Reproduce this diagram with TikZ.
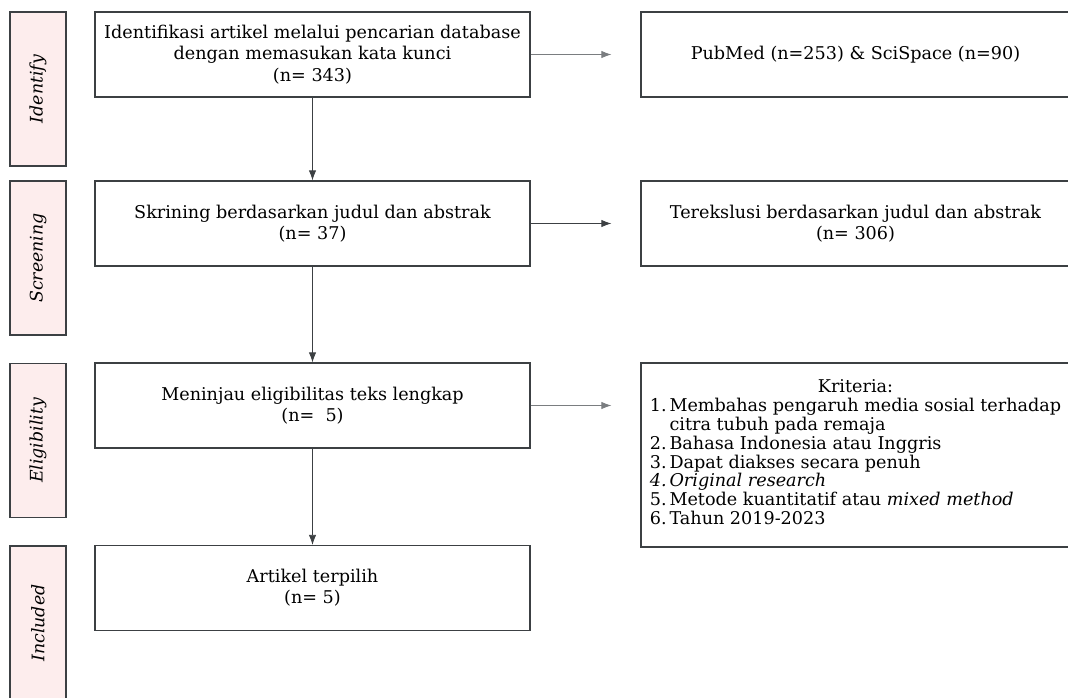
\documentclass[tikz,border=0pt]{standalone}
\usepackage{fontspec}
\setmainfont{DejaVu Serif}
\usetikzlibrary{arrows.meta}
\definecolor{edgegray}{HTML}{3C4043}
\definecolor{linegray}{HTML}{7A7D80}
\definecolor{stagepink}{HTML}{FDEDED}

\begin{document}
\begin{tikzpicture}[x=0.75pt,y=-0.75pt]

 \tikzset{
    stage/.style={draw=edgegray, fill=stagepink, line width=0.9pt, rotate=90,
      minimum width=115.5pt, minimum height=42pt, inner sep=0pt,
      font=\fontsize{13}{15}\selectfont\itshape},
    mainbox/.style={draw=edgegray, line width=0.9pt, align=center,
      minimum width=326.25pt, minimum height=63.75pt, inner sep=0pt,
      font=\fontsize{13.2}{16}\selectfont},
    sidebox/.style={mainbox, minimum width=321.75pt},
    flow/.style={draw=edgegray, line width=0.6pt, -{Latex[length=7.5pt,width=5.5pt]}},
    flowlight/.style={flow, draw=linegray},
  }

  \useasboundingbox (0,0) rectangle (1068,697);

  \node[stage] (sIdent) at (38,89) {Identify};
  \node[stage] (sScreen) at (38,258) {Screening};
  \node[stage] (sElig) at (38,440.5) {Eligibility};
  \node[stage] (sIncl) at (38,623) {Included};

  \node[mainbox] (ident) at (312.5,54.5)
    {Identifikasi artikel melalui pencarian database\\dengan memasukan kata kunci\\(n= 343)};
  \node[mainbox] (screen) at (312.5,223.5)
    {Skrining berdasarkan judul dan abstrak\\(n= 37)};
  \node[mainbox] (elig) at (312.5,405.5)
    {Meninjau eligibilitas teks lengkap\\(n=\ \ 5)};
  \node[mainbox] (incl) at (312.5,588)
    {Artikel terpilih\\(n= 5)};

  \node[sidebox] (pub) at (855.5,54.5) {PubMed (n=253) \& SciSpace (n=90)};
  \node[sidebox] (excl) at (855.5,223.5)
    {Terekslusi berdasarkan judul dan abstrak\\(n= 306)};
  \node[sidebox, minimum height=138pt] (krit) at (855.5,455) {%
    \fontsize{13.2}{13.6}\selectfont
    \begin{tabular}{@{}l@{\,}l@{}}
      \multicolumn{2}{c}{Kriteria:}\\
      1. & Membahas pengaruh media sosial terhadap\\
         & citra tubuh pada remaja\\
      2. & Bahasa Indonesia atau Inggris\\
      3. & Dapat diakses secara penuh\\
      \textit{4.} & \textit{Original research}\\
      5. & Metode kuantitatif atau \textit{mixed method}\\
      6. & Tahun 2019-2023
    \end{tabular}};

  \draw[flow] (ident) -- (screen);
  \draw[flow] (screen) -- (elig);
  \draw[flow] (elig) -- (incl);

  \draw[flowlight, shorten >=21.75pt] (ident.east) -- (pub.west);
  \draw[flow, shorten >=21.75pt] (screen.east) -- (excl.west);
  \draw[flowlight, shorten >=21.75pt] (elig.east) -- (elig.east -| krit.west);

\end{tikzpicture}
\end{document}
